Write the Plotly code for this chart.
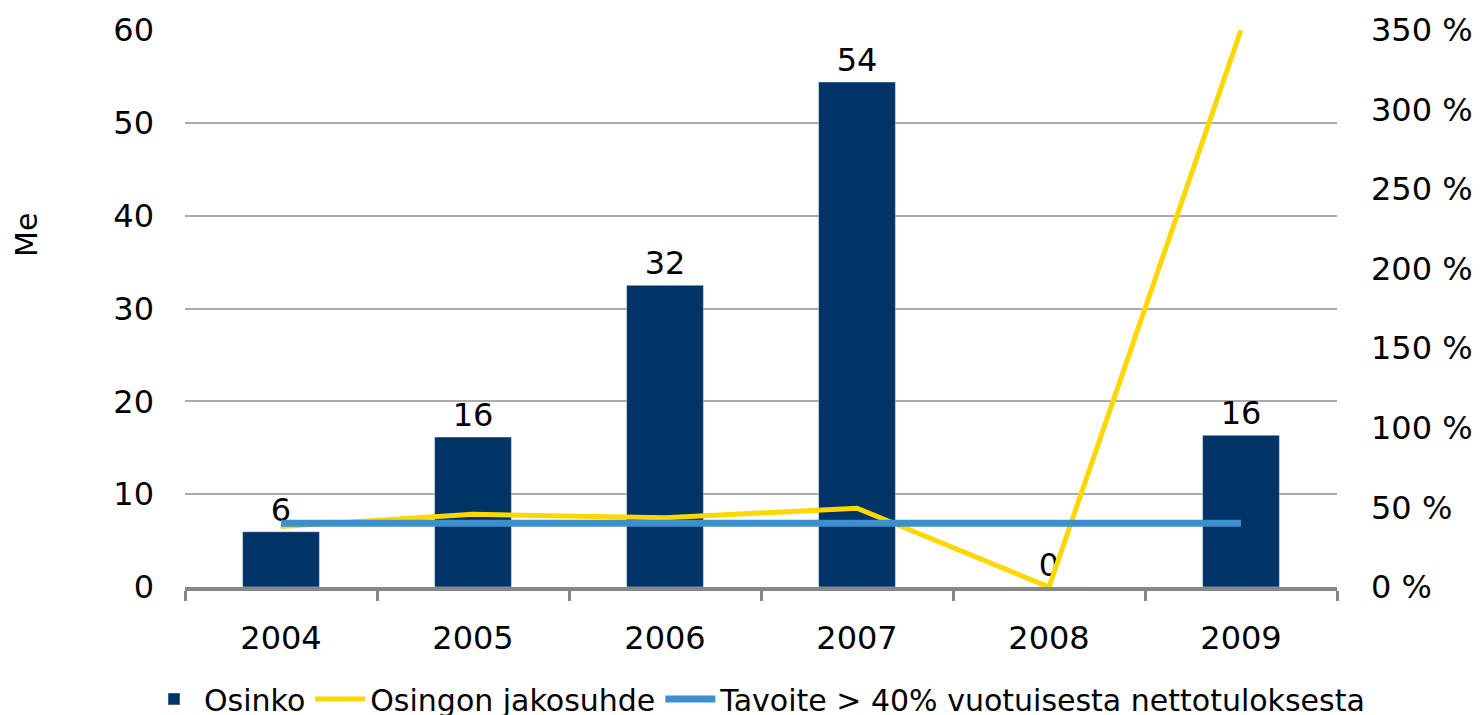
import plotly.graph_objects as go

years = ["2004", "2005", "2006", "2007", "2008", "2009"]
osinko = [5.95, 16.15, 32.5, 54.4, 0, 16.35]
osinko_labels = ["6", "16", "32", "54", "0", "16"]
jakosuhde = [38, 45.7, 43.5, 49.5, 0, 350]
tavoite = [40, 40, 40, 40, 40, 40]

FONT = "DejaVu Sans"
FS = 32

# page body has an 8px margin; figure coordinates are screen - 8
W, H = 1465, 760
PL, PR, PT, PB = 177, 1329, 22, 579

fig = go.Figure()
fig.add_trace(go.Bar(
    x=years, y=osinko, name="Osinko", marker_color="#003366",
    width=0.4, text=osinko_labels, textposition="outside",
    textfont=dict(size=FS, color="black", family=FONT), cliponaxis=False,
))
fig.add_trace(go.Scatter(
    x=years, y=jakosuhde, name="Osingon jakosuhde", mode="lines",
    line=dict(color="#FFD700", width=5), yaxis="y2",
))
fig.add_trace(go.Scatter(
    x=years, y=tavoite, name="Tavoite > 40% vuotuisesta nettotuloksesta", mode="lines",
    line=dict(color="#3B8FCC", width=7), yaxis="y2",
))

fig.update_layout(
    width=W, height=H,
    margin=dict(l=PL, r=W - PR, t=PT, b=H - PB, autoexpand=False),
    plot_bgcolor="white", paper_bgcolor="white",
    font=dict(family=FONT, size=FS, color="black"),
    xaxis=dict(
        type="category", showgrid=False, showline=True, linecolor="#878787", linewidth=4,
        ticks="outside", tickson="boundaries", ticklen=10, tickwidth=3, tickcolor="#878787",
        tickfont=dict(size=FS), range=[-0.5, 5.5], ticklabelstandoff=20,
    ),
    yaxis=dict(
        range=[0, 60], dtick=10, showgrid=True, gridcolor="#ABABAB", gridwidth=2,
        zeroline=False, showline=False, tickfont=dict(size=FS), ticks="",
        ticklabelstandoff=30,
    ),
    yaxis2=dict(
        range=[0, 350], dtick=50, overlaying="y", side="right", showgrid=False,
        zeroline=False, showline=False, ticksuffix=" %", tickfont=dict(size=FS),
        ticklabelstandoff=33,
    ),
    legend=dict(
        orientation="h", xref="paper", yref="paper",
        x=(136 - PL) / (PR - PL), xanchor="left", y=-(691 - PB) / (PB - PT), yanchor="middle",
        font=dict(size=30, family=FONT), traceorder="normal",
        itemwidth=50, tracegroupgap=0, bgcolor="rgba(0,0,0,0)",
    ),
    annotations=[dict(
        text="Me", x=(18 - PL) / (PR - PL), y=(PB - 227) / (PB - PT),
        xref="paper", yref="paper", showarrow=False,
        textangle=-90, font=dict(size=30), xanchor="center", yanchor="middle",
    )],
)

fig.write_html("out.html")
